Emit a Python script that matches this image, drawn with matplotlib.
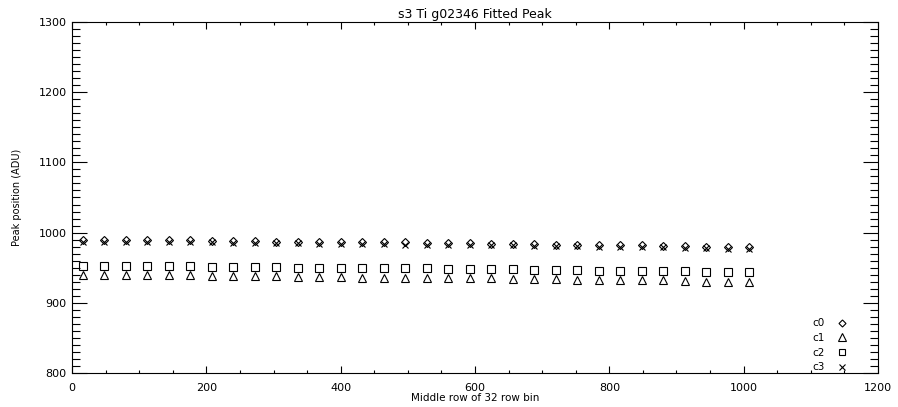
import numpy as np
import matplotlib
matplotlib.use('Agg')
import matplotlib.pyplot as plt
from matplotlib.ticker import MultipleLocator

# middle row of each 32 row bin
rows = [16, 48, 80, 112, 144, 176, 208, 240, 272, 304, 336, 368, 400, 432, 464, 496,
        528, 560, 592, 624, 656, 688, 720, 752, 784, 816, 848, 880, 912, 944, 976, 1008]

c0 = [989, 990, 989, 989, 989, 989, 988, 988, 988, 987, 987, 987, 986, 986, 986, 986,
      985, 985, 985, 984, 984, 984, 983, 983, 983, 982, 982, 981, 981, 980, 980, 979]
c1 = [939, 939, 939, 939, 939, 939, 938, 938, 938, 938, 937, 937, 937, 936, 936, 936,
      935, 935, 935, 935, 934, 934, 934, 933, 933, 933, 932, 932, 931, 930, 930, 929]
c2 = [952, 952, 952, 952, 952, 952, 951, 951, 951, 951, 950, 950, 950, 950, 949, 949,
      949, 948, 948, 948, 948, 947, 947, 947, 946, 946, 945, 945, 945, 944, 944, 944]
c3 = [986, 987, 987, 987, 986, 986, 986, 985, 985, 985, 985, 984, 984, 984, 984, 983,
      983, 983, 982, 982, 982, 981, 981, 981, 980, 980, 979, 979, 978, 978, 977, 977]

plt.rcParams['font.family'] = 'DejaVu Sans'

fig = plt.figure(figsize=(8.98, 4.07), dpi=100)
ax = fig.add_axes([0.0802, 0.0835, 0.8975, 0.8625])

mk = dict(linestyle='none', color='black', markerfacecolor='none', markeredgewidth=0.8)
ax.plot(rows, c0, marker='D', markersize=4.2, label='c0', **mk)
ax.plot(rows, c1, marker='^', markersize=6, label='c1', **mk)
ax.plot(rows, c2, marker='s', markersize=5.5, label='c2', **mk)
ax.plot(rows, c3, marker='x', markersize=5, label='c3', **mk)

ax.set_xlim(0, 1200)
ax.set_ylim(800, 1300)
ax.xaxis.set_major_locator(MultipleLocator(200))
ax.xaxis.set_minor_locator(MultipleLocator(50))
ax.yaxis.set_major_locator(MultipleLocator(100))
ax.yaxis.set_minor_locator(MultipleLocator(10))
ax.tick_params(which='both', direction='in', top=True, right=True, width=0.8,
               labelsize=8)
# x ticks are short, y ticks long (IDL style)
ax.tick_params(axis='x', which='major', length=5, pad=7)
ax.tick_params(axis='x', which='minor', length=2.5)
ax.tick_params(axis='y', which='major', length=10.5, pad=4)
ax.tick_params(axis='y', which='minor', length=5.5)
for s in ax.spines.values():
    s.set_linewidth(0.8)

ax.set_xlabel('Middle row of 32 row bin', fontsize=7.5, labelpad=0)
ax.set_ylabel('Peak position (ADU)', fontsize=7, labelpad=12)
ax.set_title('s3 Ti g02346 Fitted Peak', fontsize=9, pad=3)

leg = ax.legend(loc='lower right', frameon=False, markerfirst=False, fontsize=7.5,
                handlelength=1.0, handletextpad=1.2, labelspacing=0.45,
                borderaxespad=0.0, bbox_to_anchor=(0.967, -0.01), markerscale=0.85)

fig.savefig('out.png', dpi=100)
